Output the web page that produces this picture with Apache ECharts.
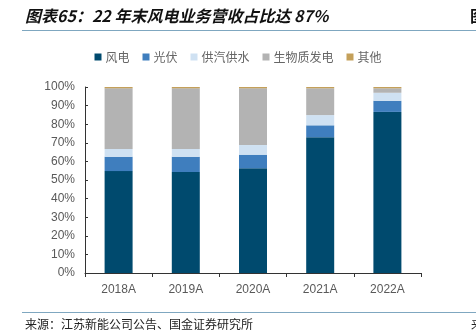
<!DOCTYPE html>
<html><head><meta charset="utf-8">
<script src="https://cdn.jsdelivr.net/npm/echarts@6/dist/echarts.min.js"></script>
<style>html,body{margin:0;padding:0;background:#fff}#c{width:476px;height:336px}</style>
</head><body><div id="c"></div>
<script>
const categories = ['2018A','2019A','2020A','2021A','2022A'];
const seriesNames = ['风电','光伏','供汽供水','生物质发电','其他'];
const wind = [54.8, 54.3, 56.3, 73.0, 86.6];
const pv = [7.7, 8.2, 7.3, 6.4, 6.0];
const heat = [4.2, 4.2, 5.2, 5.5, 4.3];
const biomass = [32.6, 32.6, 30.5, 14.4, 2.4];
const other = [0.7, 0.7, 0.7, 0.7, 0.7];
const colors = ['#004A6E','#3F7EBE','#CFE1F2','#B3B3B3','#C4A05A'];
const yTicks = [0,10,20,30,40,50,60,70,80,90,100];

const dataArr = [wind, pv, heat, biomass, other];
const chart = echarts.init(document.getElementById('c'));
const cjk = '"Noto Sans CJK SC", sans-serif';
chart.setOption({
  animation: false,
  color: colors,
  legend: {
    top: 46, left: 'center', itemWidth: 7, itemHeight: 7, itemGap: 13,
    icon: 'rect',
    textStyle: { fontFamily: cjk, fontSize: 12, color: '#666', padding: [0,0,0,-1] },
    data: seriesNames
  },
  grid: { left: 85, right: 55, top: 87, bottom: 63 },
  xAxis: {
    type: 'category', data: categories,
    axisLine: { lineStyle: { color: '#333', width: 1 } },
    axisTick: { show: true, alignWithLabel: false, length: 4, lineStyle: { color: '#333' } },
    axisLabel: { fontFamily: 'Liberation Sans, Arial, sans-serif', fontSize: 12, color: '#595959', margin: 11 }
  },
  yAxis: {
    type: 'value', min: 0, max: 100, interval: 10,
    axisLine: { show: true, lineStyle: { color: '#333', width: 1 } },
    axisTick: { show: true, inside: true, length: 3, lineStyle: { color: '#333' } },
    splitLine: { show: false },
    axisLabel: { fontFamily: 'Liberation Sans, Arial, sans-serif', fontSize: 12, color: '#595959', margin: 10,
      formatter: v => yTicks.includes(v) ? v + '%' : '' }
  },
  series: seriesNames.map((n, i) => ({
    name: n, type: 'bar', stack: 'a', barWidth: 28,
    data: dataArr[i],
    itemStyle: { color: colors[i] }
  })),
  graphic: [
    { type: 'text', left: 25, top: 8, style: { text: '图表65：22 年末风电业务营收占比达 87%', fontFamily: cjk, fontSize: 16, fontWeight: 'bold', fontStyle: 'italic', fill: '#111' } },
    { type: 'text', left: 470, top: 8, style: { text: '图', fontFamily: cjk, fontSize: 16, fontWeight: 'bold', fill: '#111' } },
    { type: 'line', shape: { x1: 22, y1: 30.5, x2: 476, y2: 30.5 }, style: { stroke: '#7FA7C0', lineWidth: 1 } },
    { type: 'line', shape: { x1: 22, y1: 312.5, x2: 476, y2: 312.5 }, style: { stroke: '#7FA7C0', lineWidth: 1 } },
    { type: 'text', left: 25, top: 318, style: { text: '来源：江苏新能公司公告、国金证券研究所', fontFamily: cjk, fontSize: 12, fill: '#222' } },
    { type: 'text', left: 471, top: 318, style: { text: '来', fontFamily: cjk, fontSize: 12, fill: '#222' } }
  ]
});
</script></body></html>
